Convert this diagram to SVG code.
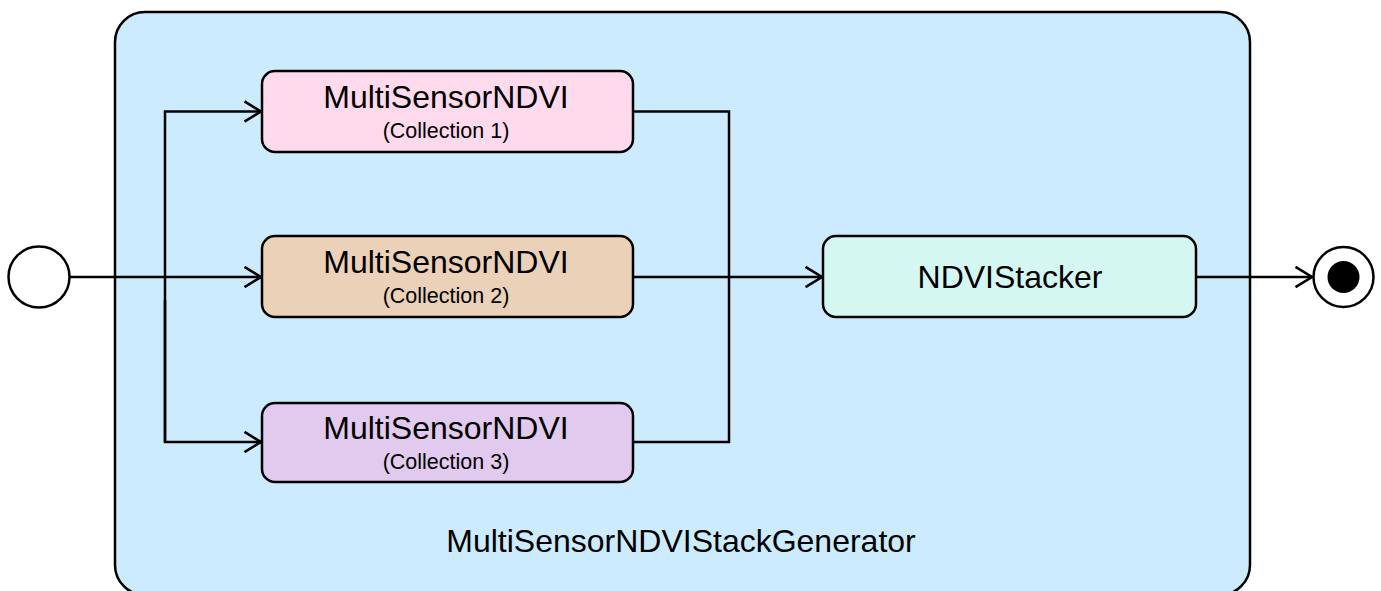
<svg xmlns="http://www.w3.org/2000/svg" width="1381" height="591" viewBox="0 0 1381 591">
  <style>
    .box { stroke: #000; stroke-width: 2.5; }
    .title { font-family: "Liberation Sans", Arial, sans-serif; font-size: 32px; fill: #000; text-anchor: middle; }
    .sub { font-family: "Liberation Sans", Arial, sans-serif; font-size: 21.5px; fill: #000; text-anchor: middle; }
    .wire { fill: none; stroke: #000; stroke-width: 2.5; }
  </style>
  <defs>
    <marker id="open-arrow" viewBox="0 0 18 22" refX="17" refY="11" markerWidth="18" markerHeight="22" markerUnits="userSpaceOnUse" orient="auto" overflow="visible">
      <path d="M0.5,0.8 L17,11 L0.5,21.2" fill="none" stroke="#000" stroke-width="2.6" stroke-linejoin="miter"/>
    </marker>
  </defs>

  <!-- composite activity -->
  <g id="MultiSensorNDVIStackGenerator">
    <rect class="box" x="115" y="12" width="1135" height="583" rx="30" ry="30" fill="#CCEBFF"/>
    <text class="title" x="681" y="552">MultiSensorNDVIStackGenerator</text>
  </g>

  <!-- connectors -->
  <g id="connectors">
    <path class="wire" d="M70,277 L261,277" marker-end="url(#open-arrow)"/>
    <path class="wire" d="M165,442 L165,111.5 L261,111.5" marker-end="url(#open-arrow)"/>
    <path class="wire" d="M165,300 L165,442 L261,442" marker-end="url(#open-arrow)"/>
    <path class="wire" d="M633,111.5 L729,111.5 L729,442 L633,442"/>
    <path class="wire" d="M633,277 L822,277" marker-end="url(#open-arrow)"/>
    <path class="wire" d="M1196,277 L1312,277" marker-end="url(#open-arrow)"/>
  </g>

  <!-- initial node -->
  <g id="start">
    <circle cx="39" cy="277" r="30.5" fill="#fff" stroke="#000" stroke-width="2.5"/>
  </g>

  <g id="ndvi1">
    <rect class="box" x="262" y="71" width="371" height="81" rx="13" ry="13" fill="#FFDAEC"/>
    <text class="title" x="446" y="108">MultiSensorNDVI</text>
    <text class="sub" x="446" y="138">(Collection 1)</text>
  </g>

  <g id="ndvi2">
    <rect class="box" x="262" y="236" width="371" height="81" rx="13" ry="13" fill="#EBD1B8"/>
    <text class="title" x="446" y="273">MultiSensorNDVI</text>
    <text class="sub" x="446" y="303">(Collection 2)</text>
  </g>

  <g id="ndvi3">
    <rect class="box" x="262" y="403" width="371" height="79" rx="13" ry="13" fill="#E1CAEE"/>
    <text class="title" x="446" y="439">MultiSensorNDVI</text>
    <text class="sub" x="446" y="469">(Collection 3)</text>
  </g>

  <g id="stacker">
    <rect class="box" x="823" y="236" width="373" height="81" rx="13" ry="13" fill="#D4F7F2"/>
    <text class="title" x="1010" y="288">NDVIStacker</text>
  </g>

  <!-- final node -->
  <g id="end">
    <circle cx="1343.5" cy="277" r="30" fill="#fff" stroke="#000" stroke-width="2.5"/>
    <circle cx="1343.5" cy="277" r="16" fill="#000"/>
  </g>
</svg>
